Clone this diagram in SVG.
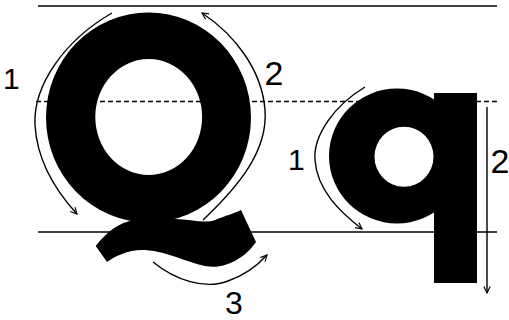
<svg xmlns="http://www.w3.org/2000/svg" width="509" height="320" viewBox="0 0 509 320">
<defs>
<style>
.guide{stroke:#000;stroke-width:1.5;fill:none}
.dash{stroke:#000;stroke-width:1.4;stroke-dasharray:5 3;fill:none}
.glyph{fill:#000;fill-rule:evenodd}
.arrow{stroke:#000;stroke-width:1.4;fill:none;marker-end:url(#head)}
.num{font-family:"Liberation Sans",Arial,sans-serif;fill:#000}
</style>
<marker id="head" viewBox="0 0 10 10" refX="9" refY="5" markerWidth="8" markerHeight="8" markerUnits="userSpaceOnUse" orient="auto">
<path d="M1,1 L9,5 L1,9" fill="none" stroke="#000" stroke-width="1.4"/>
</marker>
</defs>
<rect width="509" height="320" fill="#fff"/>
<g id="guides">
<line class="guide" x1="38" y1="6" x2="497" y2="6"/>
<line class="dash" x1="36" y1="101.5" x2="497" y2="101.5"/>
<line class="guide" x1="38" y1="232" x2="497" y2="232"/>
</g>
<g id="letter-Q">
<path class="glyph" d="M46,117.5 A102.5,105 0 1 0 251,117.5 A102.5,105 0 1 0 46,117.5 Z M95.3,117 A53.4,58 0 1 1 202.1,117 A53.4,58 0 1 1 95.3,117 Z"/>
<path class="glyph" d="M95.7,246 C105,234 118,222 135,220 L175,219 C190,219 205,224 215,220 C225,216 235,213 241,210 L256,242 C245,258 225,270 205,266 C185,262 170,252 145,250 C130,249 115,256 107,262 Z"/>
</g>
<g id="letter-q">
<path class="glyph" d="M329,156 A68,67.5 0 1 0 465,156 A68,67.5 0 1 0 329,156 Z M374.5,156.7 A29.5,30 0 1 1 433.5,156.7 A29.5,30 0 1 1 374.5,156.7 Z"/>
<rect x="434" y="93" width="43" height="190" fill="#000"/>
</g>
<g id="connectors">
<path class="arrow" d="M112,13 C65,40 33,85 35,125 C37,160 55,190 77,214"/>
<path class="arrow" d="M203,220 C240,185 268,150 265,110 C262,70 235,35 202,13"/>
<path class="arrow" d="M153,262 C175,280 205,290 228,281 C245,275 258,265 267,255"/>
<path class="arrow" d="M365,87 C335,105 313,135 315,160 C317,190 340,212 362,229"/>
<path class="arrow" d="M487,107 L487,293"/>
</g>
<g id="labels">
<text class="num" x="3" y="89" font-size="30">1</text>
<text class="num" x="274" y="85" font-size="34" text-anchor="middle">2</text>
<text class="num" x="234" y="314" font-size="32" text-anchor="middle">3</text>
<text class="num" x="288" y="170" font-size="30">1</text>
<text class="num" x="500" y="173" font-size="34" text-anchor="middle">2</text>
</g>
</svg>
